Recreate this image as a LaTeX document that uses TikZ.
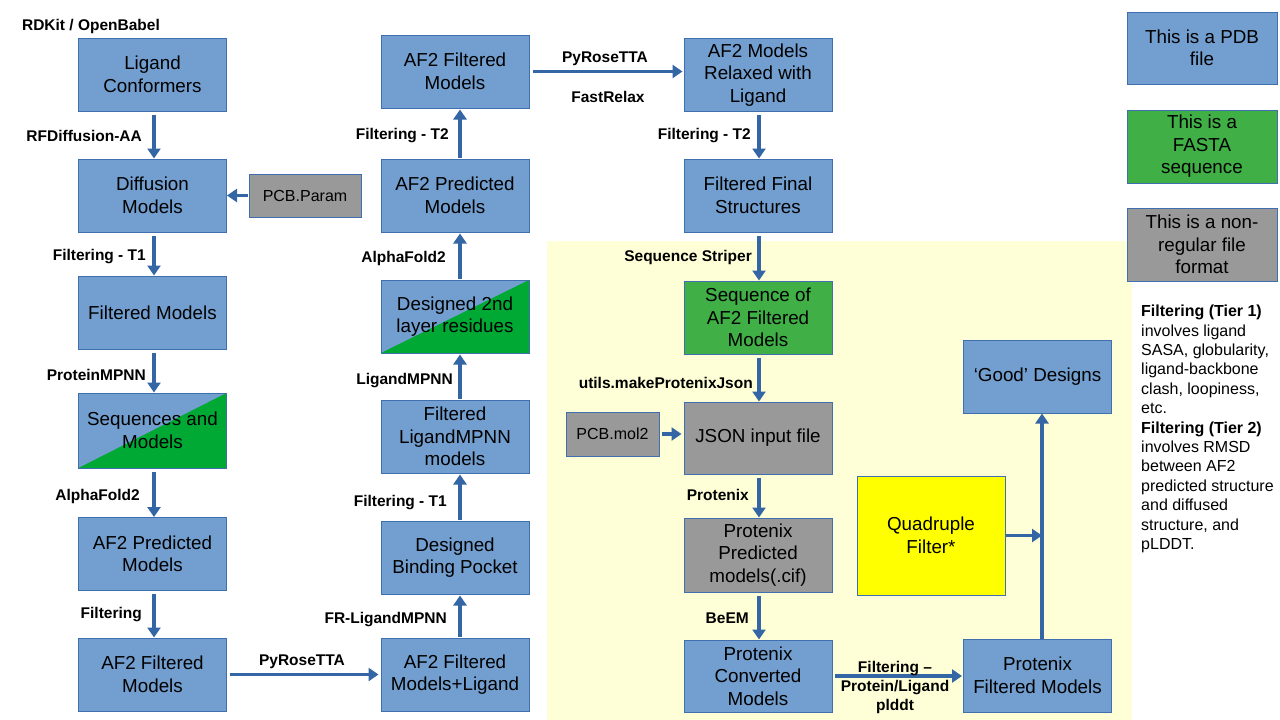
\documentclass[tikz,border=0pt]{standalone}
\usepackage{fontspec}
\setmainfont{Liberation Sans}
\usetikzlibrary{arrows.meta,calc}
\definecolor{pdbblue}{HTML}{729FCF}
\definecolor{boxborder}{HTML}{3F6FAE}
\definecolor{arrowblue}{HTML}{3465A4}
\definecolor{fastagreen}{HTML}{3FAF46}
\definecolor{diaggreen}{HTML}{00A933}
\definecolor{filegray}{HTML}{999999}
\definecolor{bgyellow}{HTML}{FFFFD7}
\definecolor{qyellow}{HTML}{FFFF00}
\begin{document}
\begin{tikzpicture}[x=1pt,y=-1pt,
  box/.style={draw=boxborder, line width=1pt, align=center, inner sep=2pt,
    font=\fontsize{18.8}{22.5}\selectfont, text=black},
  pdb/.style={box, fill=pdbblue},
  fasta/.style={box, fill=fastagreen},
  other/.style={box, fill=filegray},
  mixed/.style={box, fill=pdbblue, path picture={\fill[diaggreen]
      (path picture bounding box.south west) -- (path picture bounding box.south east)
      -- (path picture bounding box.north east) -- cycle;}},
  std/.style={minimum width=148pt, minimum height=73pt},
  lbl/.style={font=\fontsize{15.5}{18}\bfseries\selectfont, inner sep=0pt, text=black},
  flow/.style={draw=arrowblue, line width=3.5pt, -{Triangle[width=13pt,length=10pt]}}
]
\useasboundingbox (0,0) rectangle (1280,720);
\fill[white] (0,0) rectangle (1280,720);
\fill[bgyellow] (547,241) rectangle (1132,720);

% column 1
\node[pdb,std] (lc) at (152.5,74.5) {Ligand\\Conformers};
\node[pdb,std] (dm) at (152.5,195.5) {Diffusion\\Models};
\node[pdb,std] (fm) at (152.5,312.5) {Filtered Models};
\node[mixed,std,minimum height=75pt] (sm) at (152.5,430.5) {Sequences and\\Models};
\node[pdb,std] (ap1) at (152.5,554) {AF2 Predicted\\Models};
\node[pdb,std] (af1) at (152.5,674.5) {AF2 Filtered\\Models};
\node[other,minimum width=112pt,minimum height=43pt,font=\fontsize{16}{19}\selectfont] (pcbp) at (305,195.5) {PCB.Param};

% column 2
\node[pdb,std] (af2f) at (455,71.5) {AF2 Filtered\\Models};
\node[pdb,std] (af2p) at (455,195.5) {AF2 Predicted\\Models};
\node[mixed,std] (d2) at (455,316.5) {Designed 2nd\\layer residues};
\node[pdb,std] (flm) at (455,436.5) {Filtered\\LigandMPNN\\models};
\node[pdb,std] (dbp) at (455,557.5) {Designed\\Binding Pocket};
\node[pdb,std] (afl) at (455,674.5) {AF2 Filtered\\Models+Ligand};

% column 3
\node[pdb,std] (rel) at (758,75) {AF2 Models\\Relaxed with\\Ligand};
\node[pdb,std] (ffs) at (758,195.5) {Filtered Final\\Structures};
\node[fasta,std] (seq) at (758,317.5) {Sequence of\\AF2 Filtered\\Models};
\node[other,std,minimum height=72pt] (json) at (758,438) {JSON input file};
\node[other,minimum width=93pt,minimum height=44pt,font=\fontsize{16}{19}\selectfont] (pcbm) at (612.5,434) {PCB.mol2};
\node[other,std,minimum height=74pt] (ppm) at (758,555) {Protenix\\Predicted\\models(.cif)};
\node[pdb,std,minimum height=72pt] (pcm) at (758,676) {Protenix\\Converted\\Models};

% right part
\node[box,fill=qyellow,minimum width=148pt,minimum height=119pt] (qf) at (931,535.5) {Quadruple\\Filter*};
\node[pdb,std] (pfm) at (1037.5,675.5) {Protenix\\Filtered Models};
\node[pdb,std] (gd) at (1037.5,376.5) {‘Good’ Designs};
\coordinate (qj) at (1042,535.5);

% legend
\node[pdb,minimum width=150pt,minimum height=72pt] (lg1) at (1202,48) {This is a PDB\\file};
\node[fasta,minimum width=150pt,minimum height=73pt] (lg2) at (1202,146.5) {This is a\\FASTA\\sequence};
\node[other,minimum width=150pt,minimum height=73pt] (lg3) at (1202,244.5) {This is a non-\\regular file\\format};
\node[anchor=north west, inner sep=0pt, align=left, font=\fontsize{16}{19.4}\selectfont] (note) at (1141,305)
 {\textbf{Filtering (Tier 1)}\\involves ligand\\SASA, globularity,\\ligand-backbone\\clash, loopiness,\\etc.\\
  \textbf{Filtering (Tier 2)}\\involves RMSD\\between AF2\\predicted structure\\and diffused\\structure, and\\pLDDT.};

% arrows column 1
\foreach \a/\b in {lc/dm,dm/fm,fm/sm,sm/ap1,ap1/af1}
  \draw[flow,shorten <=3pt] ([xshift=1.5pt]\a.south) -- ([xshift=1.5pt]\b.north);
\draw[flow,shorten <=1pt] (pcbp.west) -- (dm.east);
\draw[flow,shorten <=3pt,shorten >=2pt] (af1.east) -- (afl.west);
% arrows column 2
\foreach \a/\b in {afl/dbp,dbp/flm,flm/d2,d2/af2p,af2p/af2f}
  \draw[flow,shorten <=1pt,shorten >=1pt] ([xshift=5pt]\a.north) -- ([xshift=5pt]\b.south);
\draw[flow,shorten <=3pt,shorten >=1pt] (af2f.east) -- (af2f.east -| rel.west);
% arrows column 3
\foreach \a/\b in {rel/ffs,ffs/seq,seq/json,json/ppm,ppm/pcm}
  \draw[flow,shorten <=3pt] ([xshift=1pt]\a.south) -- ([xshift=1pt]\b.north);
\draw[flow,shorten <=2pt,shorten >=2pt] (pcbm.east) -- (pcbm.east -| json.west);
\draw[flow,shorten <=2pt,shorten >=1pt] (pcm.east) -- (pcm.east -| pfm.west);
\draw[flow] ([xshift=4.5pt]pfm.north) -- ([xshift=4.5pt]gd.south);
\draw[flow] (qf.east) -- (qj);

% labels
\node[lbl] (l1) at (91,26) {RDKit / OpenBabel};
\node[lbl,anchor=east] (l2) at (142,136) {RFDiffusion-AA};
\node[lbl,anchor=east] (l3) at (146,257) {Filtering - T1};
\node[lbl,anchor=east] (l4) at (146,375) {ProteinMPNN};
\node[lbl,anchor=east] (l5) at (140,496) {AlphaFold2};
\node[lbl,anchor=east] (l6) at (142,615) {Filtering};
\node[lbl] (l7) at (302,662) {PyRoseTTA};
\node[lbl,anchor=east] (m1) at (447,620) {FR-LigandMPNN};
\node[lbl,anchor=east] (m2) at (447,503) {Filtering - T1};
\node[lbl,anchor=east] (m3) at (453,381) {LigandMPNN};
\node[lbl,anchor=east] (m4) at (446,258) {AlphaFold2};
\node[lbl,anchor=east] (m5) at (449,136) {Filtering - T2};
\node[lbl] (t1) at (605,59) {PyRoseTTA};
\node[lbl] (t2) at (608,97) {FastRelax};
\node[lbl,anchor=east] (r1) at (751,136) {Filtering - T2};
\node[lbl,anchor=east] (r2) at (752,257) {Sequence Striper};
\node[lbl,anchor=east] (r3) at (753,383) {utils.makeProtenixJson};
\node[lbl,anchor=east] (r4) at (749,495) {Protenix};
\node[lbl,anchor=east] (r5) at (749,618) {BeEM};
\node[lbl,align=center,font=\fontsize{15.5}{19}\bfseries\selectfont] (b1) at (895,687) {Filtering –\\Protein/Ligand\\plddt};
\end{tikzpicture}
\end{document}
